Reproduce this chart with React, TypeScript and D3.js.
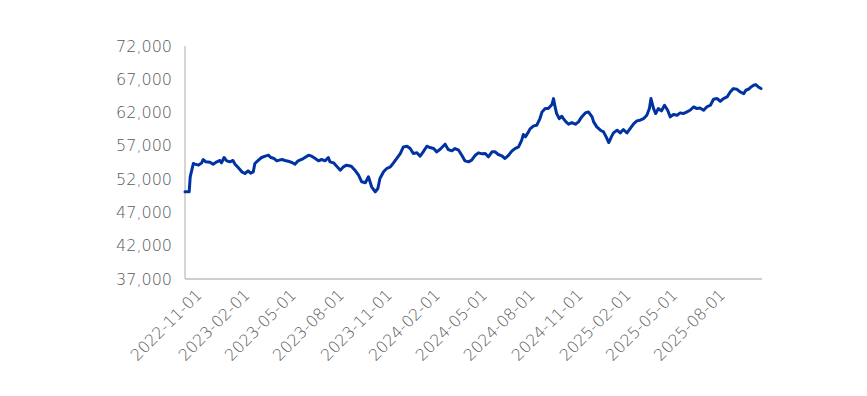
import React, { useEffect, useRef } from "react";
import * as d3 from "d3";

// readings from the chart, roughly weekly
const dates = [
  "2022-11-01", "2022-11-09", "2022-11-11", "2022-11-14", "2022-11-17", "2022-11-20", "2022-11-27",
  "2022-12-03", "2022-12-06", "2022-12-11", "2022-12-19", "2022-12-25",
  "2023-01-01", "2023-01-07", "2023-01-10", "2023-01-15", "2023-01-20", "2023-01-26",
  "2023-02-01", "2023-02-05", "2023-02-11", "2023-02-18", "2023-02-24",
  "2023-03-02", "2023-03-07", "2023-03-12", "2023-03-15", "2023-03-22", "2023-03-28",
  "2023-04-04", "2023-04-10", "2023-04-15", "2023-04-21", "2023-04-26",
  "2023-05-01", "2023-05-06", "2023-05-12", "2023-05-18", "2023-05-25", "2023-05-31",
  "2023-06-06", "2023-06-16", "2023-06-26",
  "2023-07-02", "2023-07-09", "2023-07-15", "2023-07-21", "2023-07-28",
  "2023-08-03", "2023-08-06", "2023-08-13", "2023-08-19", "2023-08-26",
  "2023-09-01", "2023-09-07", "2023-09-16", "2023-09-23", "2023-09-30",
  "2023-10-06", "2023-10-13", "2023-10-19", "2023-10-25",
  "2023-11-01", "2023-11-06", "2023-11-10", "2023-11-17", "2023-11-23", "2023-11-30",
  "2023-12-06", "2023-12-12", "2023-12-19", "2023-12-25",
  "2024-01-01", "2024-01-07", "2024-01-13", "2024-01-20", "2024-01-26",
  "2024-02-01", "2024-02-08", "2024-02-14", "2024-02-21", "2024-02-27",
  "2024-03-04", "2024-03-14", "2024-03-20", "2024-03-27",
  "2024-04-02", "2024-04-09", "2024-04-15", "2024-04-21", "2024-04-28",
  "2024-05-04", "2024-05-11", "2024-05-17", "2024-05-24", "2024-05-30",
  "2024-06-05", "2024-06-12", "2024-06-18", "2024-06-24",
  "2024-07-01", "2024-07-07", "2024-07-14", "2024-07-20", "2024-07-26",
  "2024-08-02", "2024-08-08", "2024-08-11", "2024-08-15", "2024-08-21", "2024-08-24", "2024-08-31",
  "2024-09-06", "2024-09-12", "2024-09-16", "2024-09-22", "2024-09-28",
  "2024-10-05", "2024-10-08", "2024-10-11", "2024-10-14", "2024-10-19", "2024-10-24", "2024-10-27",
  "2024-11-01", "2024-11-06", "2024-11-12", "2024-11-19", "2024-11-25",
  "2024-12-01", "2024-12-08", "2024-12-14", "2024-12-21", "2024-12-24", "2024-12-30",
  "2025-01-06", "2025-01-12", "2025-01-17", "2025-01-22", "2025-01-27", "2025-01-31",
  "2025-02-07", "2025-02-13", "2025-02-19", "2025-02-26",
  "2025-03-04", "2025-03-11", "2025-03-17", "2025-03-23", "2025-03-30",
  "2025-04-05", "2025-04-10", "2025-04-13", "2025-04-18", "2025-04-22", "2025-04-27",
  "2025-05-03", "2025-05-09", "2025-05-15", "2025-05-20", "2025-05-26",
  "2025-06-02", "2025-06-08", "2025-06-14", "2025-06-21", "2025-06-27",
  "2025-07-04", "2025-07-10", "2025-07-16", "2025-07-23", "2025-07-29",
  "2025-08-05", "2025-08-11", "2025-08-18", "2025-08-24", "2025-08-30",
  "2025-09-06", "2025-09-12", "2025-09-18", "2025-09-25",
  "2025-10-01", "2025-10-08", "2025-10-12", "2025-10-17", "2025-10-22", "2025-10-27", "2025-10-31",
  "2025-11-05", "2025-11-10",
];

const values = [
  50100, 50100, 52350, 53350, 54350, 54250, 54100,
  54450, 54950, 54600, 54550, 54250,
  54600, 54800, 54450, 55250, 54750, 54600,
  54800, 54250, 53750, 53100, 52850,
  53250, 52900, 53100, 54350, 54850, 55250,
  55450, 55600, 55250, 55100, 54750,
  54850, 54950, 54800, 54700, 54500, 54250,
  54750, 55100, 55600,
  55450, 55100, 54750, 54950, 54750,
  55250, 54600, 54450, 53950, 53350,
  53850, 54100, 53950, 53350, 52600,
  51600, 51450, 52350, 50850,
  50100, 50600, 52100, 53100, 53600, 53850,
  54450, 55100, 55850, 56850,
  56950, 56600, 55850, 55950, 55450,
  56100, 56950, 56750, 56600, 56100,
  56450, 57250, 56450, 56250,
  56600, 56350, 55600, 54750, 54600,
  54850, 55600, 55950, 55800, 55850,
  55350, 56100, 56100, 55700,
  55500, 55100, 55600, 56200, 56600,
  56850, 57850, 58700, 58350, 59100, 59550, 60000,
  60100, 61100, 62100, 62600, 62600,
  63200, 64100, 62850, 61850, 61100, 61450, 61100,
  60600, 60250, 60500, 60250, 60600,
  61350, 61950, 62100, 61350, 60600, 59850,
  59350, 59100, 58350, 57500, 58350, 58950,
  59350, 58950, 59450, 58950,
  59600, 60350, 60750, 60850, 61100,
  61600, 62600, 64100, 62600, 61850, 62600,
  62250, 63100, 62350, 61350, 61700,
  61600, 61950, 61850, 62100, 62350,
  62850, 62600, 62700, 62350, 62850,
  63100, 64000, 64100, 63700, 64100,
  64350, 65100, 65600, 65500,
  65100, 64850, 65350, 65500, 65850, 66100, 66200,
  65850, 65600,
];

const yTicks = [37000, 42000, 47000, 52000, 57000, 62000, 67000, 72000];
const xTickLabels = [
  "2022-11-01", "2023-02-01", "2023-05-01", "2023-08-01", "2023-11-01", "2024-02-01",
  "2024-05-01", "2024-08-01", "2024-11-01", "2025-02-01", "2025-05-01", "2025-08-01",
];
const xStart = "2022-11-01";
const xEnd = "2025-11-12";

const App = () => {
  const ref = useRef<SVGSVGElement>(null);

  useEffect(() => {
    const width = 867;
    const height = 396;
    const margin = { top: 46, right: 105, bottom: 117, left: 185 };
    const parse = d3.utcParse("%Y-%m-%d");
    const font = "'DejaVu Sans', sans-serif";
    const textColor = "#595959";

    const svg = d3.select(ref.current).attr("width", width).attr("height", height);
    svg.selectAll("*").remove();

    const data = dates.map((d, i) => ({ date: parse(d)!, value: values[i] }));

    const x = d3.scaleUtc()
      .domain([parse(xStart)!, parse(xEnd)!])
      .range([margin.left, width - margin.right]);

    const y = d3.scaleLinear()
      .domain([37000, 72000])
      .range([height - margin.bottom, margin.top]);

    // axis lines
    svg.append("line")
      .attr("x1", margin.left).attr("x2", margin.left)
      .attr("y1", y(72000)).attr("y2", y(37000))
      .attr("stroke", "#bfbfbf").attr("stroke-width", 1.3);
    svg.append("line")
      .attr("x1", margin.left).attr("x2", width - margin.right)
      .attr("y1", y(37000)).attr("y2", y(37000))
      .attr("stroke", "#bfbfbf").attr("stroke-width", 1.3);

    const fmt = d3.format(",");
    svg.append("g")
      .selectAll("text")
      .data(yTicks)
      .join("text")
      .attr("x", margin.left - 13)
      .attr("y", d => y(d))
      .attr("dy", "0.35em")
      .attr("text-anchor", "end")
      .attr("font-family", font)
      .attr("font-size", 16)
      .attr("font-weight", 300)
      .attr("fill", textColor)
      .text(d => fmt(d));

    svg.append("g")
      .selectAll("text")
      .data(xTickLabels)
      .join("text")
      .attr("transform", d => `translate(${x(parse(d)!) + 14},${y(37000) + 13}) rotate(-45)`)
      .attr("dy", "0.35em")
      .attr("text-anchor", "end")
      .attr("font-family", font)
      .attr("font-size", 16)
      .attr("font-weight", 300)
      .attr("fill", textColor)
      .text(d => d);

    const line = d3.line<{ date: Date; value: number }>()
      .x(d => x(d.date))
      .y(d => y(d.value));

    svg.append("path")
      .datum(data)
      .attr("d", line)
      .attr("fill", "none")
      .attr("stroke", "#0033a1")
      .attr("stroke-width", 3)
      .attr("stroke-linejoin", "round")
      .attr("stroke-linecap", "round");
  }, []);

  return <svg ref={ref} style={{ position: "absolute", left: 0, top: 0 }}></svg>;
};

export default App;
